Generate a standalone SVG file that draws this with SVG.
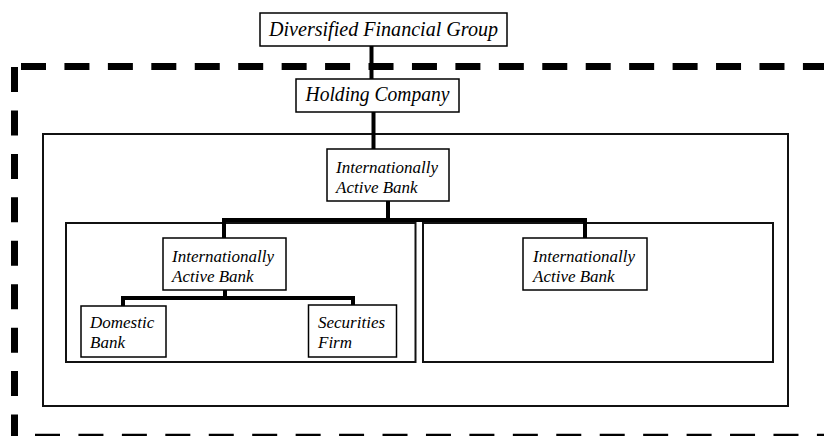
<svg xmlns="http://www.w3.org/2000/svg" width="824" height="436" viewBox="0 0 824 436">
<style>
.box{fill:#fff;stroke:#000;stroke-width:1.5}
.frame{fill:none;stroke:#111;stroke-width:2}
.t{font-family:"Liberation Serif","Times New Roman",serif;font-style:italic;fill:#000}
.big{font-size:20px}
.sm{font-size:17px}
.conn{fill:none;stroke:#000;stroke-width:4;stroke-linejoin:miter}
.dash{fill:none;stroke:#000;stroke-dasharray:25 18.44}
</style>
<rect width="824" height="436" fill="#fff"/>
<g id="boundary">
<line class="dash" x1="21" y1="66.5" x2="824" y2="66.5" stroke-width="7"/>
<line class="dash" x1="14.5" y1="67" x2="14.5" y2="440" stroke-width="7"/>
<line class="dash" x1="35" y1="435" x2="824" y2="435" stroke-width="2.5"/>
</g>
<g id="containers">
<rect id="outer-frame" class="frame" x="43" y="134" width="745" height="272"/>
<rect id="left-frame" class="frame" x="66" y="223" width="349.5" height="139" stroke-width="1.6"/>
<rect id="right-frame" class="frame" x="423" y="223" width="350" height="139" stroke-width="1.6"/>
</g>
<g id="connectors">
<line class="conn" x1="371.5" y1="46" x2="371.5" y2="79"/>
<line class="conn" x1="373.5" y1="112" x2="373.5" y2="149"/>
<polyline class="conn" points="388,201 388,220"/>
<polyline class="conn" points="224,238 224,220 585,220 585,238"/>
<polyline class="conn" points="225,290 225,298"/>
<polyline class="conn" points="123,306 123,298 353,298 353,305"/>
</g>
<g id="n-dfg">
<rect class="box" x="260" y="13" width="247" height="33"/>
<text class="t big" x="269" y="35.5" textLength="229" lengthAdjust="spacingAndGlyphs">Diversified Financial Group</text>
</g>
<g id="n-holding">
<rect class="box" x="296" y="79" width="163" height="33"/>
<text class="t big" x="305.5" y="101" textLength="144" lengthAdjust="spacingAndGlyphs">Holding Company</text>
</g>
<g id="n-iab-top">
<rect class="box" x="327" y="149" width="122" height="52"/>
<text class="t sm" x="336" y="172.5">Internationally</text>
<text class="t sm" x="336" y="192.5">Active Bank</text>
</g>
<g id="n-iab-left">
<rect class="box" x="163" y="238" width="123" height="52"/>
<text class="t sm" x="172" y="261.5">Internationally</text>
<text class="t sm" x="172" y="281.5">Active Bank</text>
</g>
<g id="n-iab-right">
<rect class="box" x="523" y="238" width="124" height="52"/>
<text class="t sm" x="533" y="261.5">Internationally</text>
<text class="t sm" x="533" y="281.5">Active Bank</text>
</g>
<g id="n-domestic">
<rect class="box" x="81" y="306" width="85" height="51"/>
<text class="t sm" x="90" y="328">Domestic</text>
<text class="t sm" x="90" y="348">Bank</text>
</g>
<g id="n-securities">
<rect class="box" x="308.5" y="305" width="88" height="52"/>
<text class="t sm" x="318" y="328">Securities</text>
<text class="t sm" x="318" y="348">Firm</text>
</g>
</svg>
